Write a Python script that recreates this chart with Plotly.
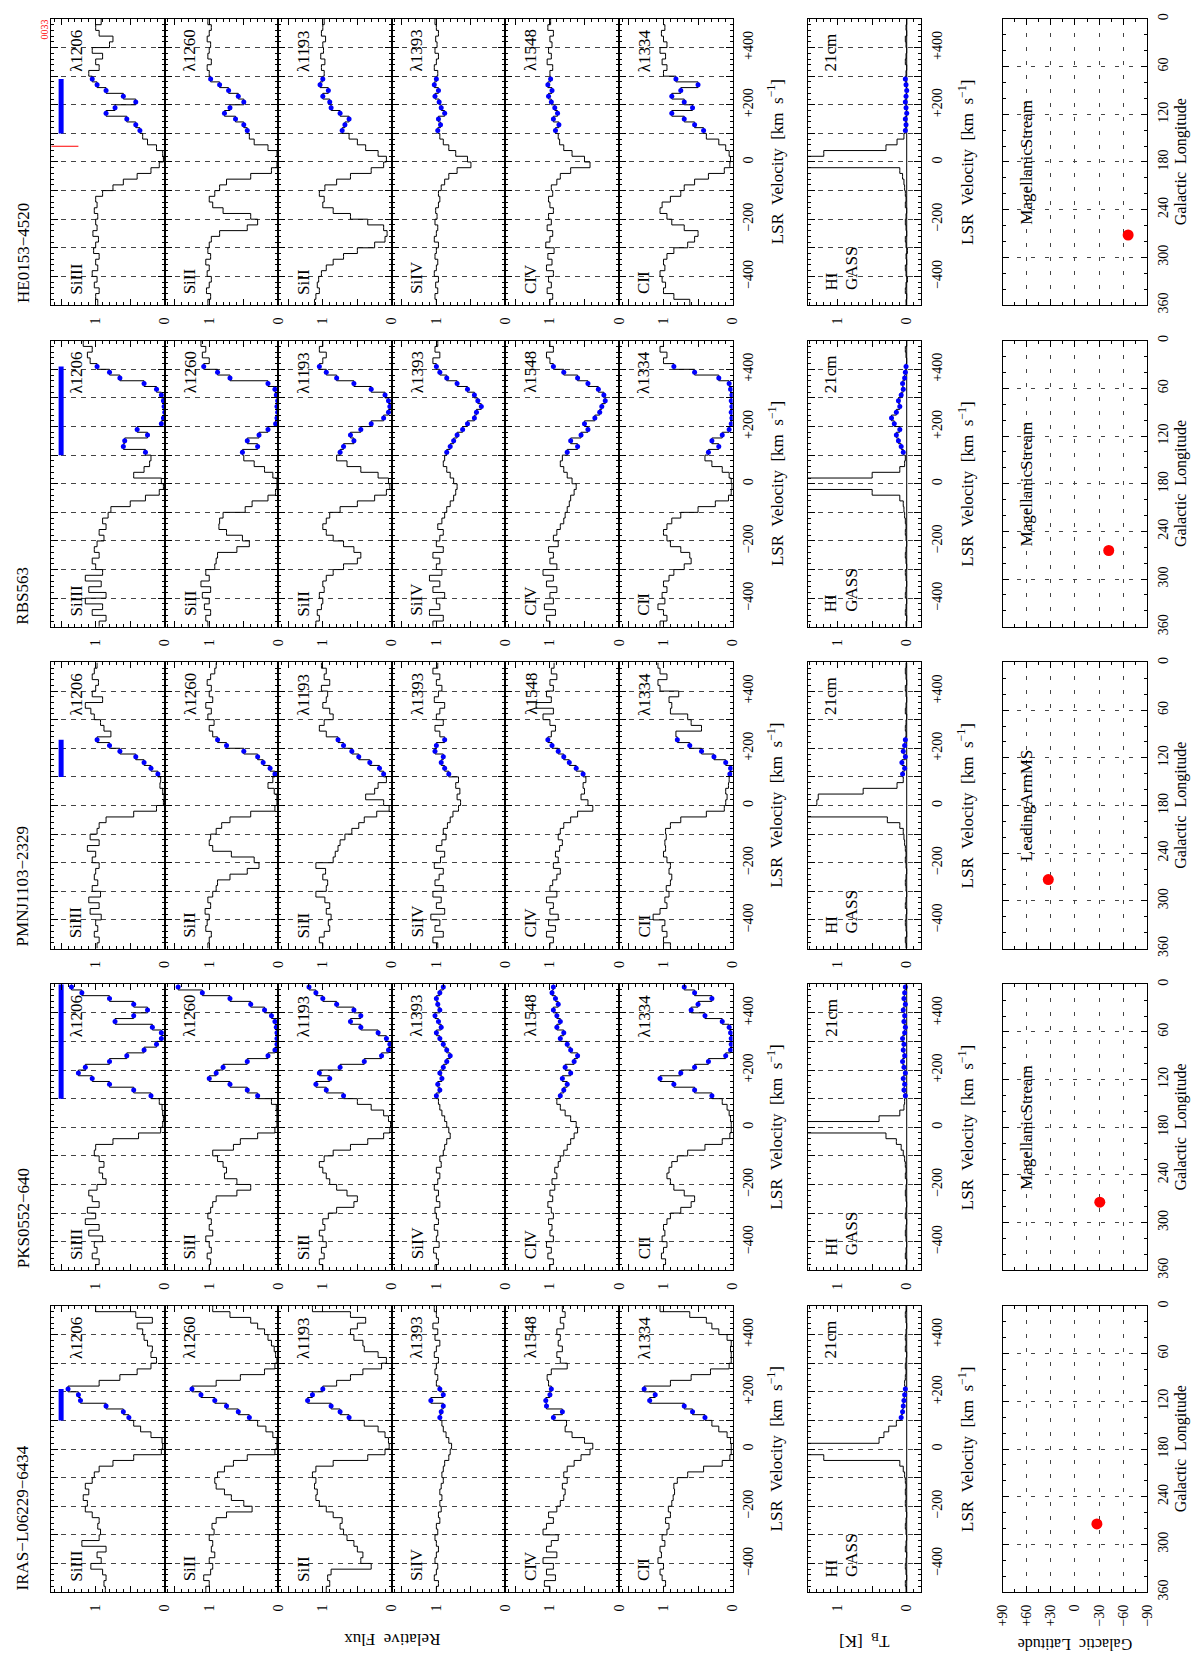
import plotly.graph_objects as go

# velocity bin centres (km/s) shared by every spectrum
VEL = list(range(-490, 500, 20))

sightlines = ["HE0153\u22124520", "RBS563", "PMNJ1103\u22122329", "PKS0552\u2212640", "IRAS\u2212L06229\u22126434"]
ions = ["SiIII", "SiII", "SiII", "SiIV", "CIV", "CII"]
lines = ["\u03bb1206", "\u03bb1260", "\u03bb1193", "\u03bb1393", "\u03bb1548", "\u03bb1334"]
blue_vmin = [100, 100, 100, 100, 100]
blue_vmax = [290, 410, 230, 500, 210]
red_tick_vel = 55  # marked velocity in HE0153-4520 SiIII panel
glon = [271.9, 264.0, 273.2, 274.3, 274.3]
glat = [-66.1, -42.0, 33.1, -30.9, -27.3]
map_labels = ["MagellanicStream", "MagellanicStream", "LeadingArmMS", "MagellanicStream", ""]

# ---- HE0153-4520
he_siiii = [0.97, 1.00, 0.95, 1.02, 0.98, 1.05, 0.97, 1.00, 0.95, 1.03,
            1.00, 0.96, 1.04, 0.98, 1.00, 0.97, 1.02, 0.98, 1.00, 0.90,
            0.75, 0.60, 0.40, 0.20, 0.08, 0.02, 0.03, 0.12, 0.25, 0.32,
            0.36, 0.42, 0.55, 0.85, 0.72, 0.42, 0.60, 0.85, 0.98, 1.05,
            1.10, 0.95, 1.00, 0.90, 1.05, 0.80, 0.75, 0.95, 1.00, 0.92]
he_sii1260 = [1.02, 0.98, 1.04, 1.00, 0.97, 1.03, 1.00, 1.05, 0.98, 1.02,
              1.00, 0.97, 0.85, 0.45, 0.30, 0.40, 0.80, 0.95, 1.00, 0.92,
              0.85, 0.75, 0.40, 0.10, 0.02, 0.00, 0.02, 0.15, 0.35, 0.42,
              0.45, 0.50, 0.62, 0.78, 0.70, 0.50, 0.58, 0.72, 0.85, 0.98,
              1.00, 1.03, 0.97, 1.02, 1.00, 0.98, 1.03, 1.00, 0.97, 1.02]
he_sii1193 = [1.12, 1.10, 1.05, 1.08, 1.06, 1.02, 0.95, 0.85, 0.70, 0.50,
              0.25, 0.10, 0.07, 0.12, 0.35, 0.60, 0.85, 1.00, 0.98, 1.05,
              0.97, 0.80, 0.60, 0.30, 0.12, 0.08, 0.20, 0.38, 0.50, 0.62,
              0.72, 0.68, 0.62, 0.75, 0.88, 0.90, 1.00, 0.92, 1.04, 1.00,
              0.98, 1.02, 0.97, 1.03, 0.99, 1.00, 0.96, 1.02, 1.00, 0.98]
he_siiv = [1.00, 1.02, 0.98, 1.01, 0.97, 1.03, 1.00, 0.98, 1.02, 1.00,
           0.97, 1.03, 1.00, 0.98, 1.02, 0.99, 1.01, 0.97, 0.95, 0.97,
           0.93, 0.88, 0.82, 0.70, 0.50, 0.55, 0.72, 0.82, 0.90, 0.95,
           0.98, 0.94, 0.97, 0.88, 0.93, 0.96, 1.02, 0.97, 1.03, 1.00,
           0.98, 1.03, 1.00, 0.97, 1.02, 0.99, 1.01, 0.97, 1.00, 1.02]
he_civ = [1.00, 0.96, 1.04, 0.98, 1.02, 0.95, 1.05, 0.97, 1.03, 0.94,
          1.06, 1.00, 0.96, 1.04, 0.98, 1.02, 0.95, 1.00, 1.02, 0.96,
          0.98, 0.90, 0.85, 0.70, 0.42, 0.50, 0.68, 0.80, 0.86, 0.88,
          0.92, 0.87, 0.95, 0.89, 0.93, 0.98, 1.02, 0.97, 1.03, 0.99,
          1.00, 0.96, 1.04, 0.98, 1.02, 0.97, 1.00, 0.95, 1.03, 0.99]
he_cii = [0.62, 0.85, 1.00, 0.97, 1.02, 1.05, 0.98, 1.00, 0.95, 0.85,
          0.65, 0.55, 0.50, 0.70, 0.88, 0.95, 1.05, 1.02, 0.90, 0.75,
          0.70, 0.55, 0.35, 0.12, 0.04, 0.03, 0.05, 0.10, 0.20, 0.38,
          0.42, 0.55, 0.70, 0.88, 0.58, 0.70, 0.88, 0.75, 0.50, 0.82,
          1.00, 0.95, 1.02, 0.97, 1.05, 0.95, 1.00, 1.03, 0.98, 1.00]
he_hi = [0.01, 0.00, 0.02, 0.01, -0.01, 0.01, 0.02, 0.00, 0.01, -0.01,
         0.01, 0.02, 0.00, 0.01, 0.02, 0.01, 0.00, 0.02, 0.01, 0.02,
         0.03, 0.04, 0.06, 0.10, 3.00, 3.00, 1.20, 0.30, 0.14, 0.04,
         0.02, 0.01, 0.02, 0.00, 0.01, 0.02, 0.01, 0.00, 0.01, 0.02,
         0.01, 0.00, 0.02, 0.01, 0.00, 0.01, 0.02, 0.00, 0.01, 0.00]

# ---- RBS563
rbs_siiii = [0.95, 0.85, 1.05, 0.90, 1.15, 0.85, 1.10, 0.92, 1.15, 0.90,
             1.00, 1.05, 0.95, 1.02, 0.98, 0.88, 0.95, 0.85, 0.90, 0.82,
             0.78, 0.50, 0.28, 0.08, 0.02, 0.05, 0.45, 0.30, 0.22, 0.20,
             0.28, 0.60, 0.58, 0.25, 0.40, 0.05, 0.02, 0.00, 0.01, 0.02,
             0.05, 0.12, 0.30, 0.65, 0.80, 0.98, 1.08, 1.12, 1.05, 1.18]
rbs_sii1260 = [1.02, 1.05, 0.98, 1.07, 1.00, 1.10, 0.98, 1.12, 1.00, 1.05,
               0.92, 0.90, 0.88, 0.60, 0.42, 0.52, 0.75, 0.86, 0.85, 0.80,
               0.48, 0.38, 0.15, 0.04, 0.02, 0.02, 0.08, 0.20, 0.35, 0.50,
               0.52, 0.30, 0.45, 0.28, 0.15, 0.04, 0.02, 0.01, 0.02, 0.01,
               0.03, 0.05, 0.15, 0.70, 0.88, 1.08, 1.00, 1.10, 1.05, 1.12]
rbs_sii1193 = [1.10, 1.05, 1.08, 1.02, 1.00, 1.05, 0.98, 1.00, 0.95, 0.85,
               0.70, 0.50, 0.45, 0.55, 0.70, 0.85, 0.95, 1.00, 0.95, 0.90,
               0.75, 0.50, 0.25, 0.08, 0.03, 0.05, 0.20, 0.45, 0.65, 0.80,
               0.75, 0.70, 0.55, 0.60, 0.45, 0.30, 0.12, 0.05, 0.03, 0.05,
               0.10, 0.30, 0.55, 0.80, 0.95, 1.05, 1.00, 0.95, 1.05, 1.00]
rbs_siiv = [1.05, 0.90, 1.10, 0.95, 1.00, 0.88, 1.05, 0.95, 1.10, 0.92,
            1.00, 0.95, 1.05, 0.90, 1.00, 0.95, 0.90, 0.98, 0.92, 0.88,
            0.85, 0.80, 0.75, 0.72, 0.70, 0.75, 0.80, 0.85, 0.90, 0.88,
            0.85, 0.80, 0.75, 0.70, 0.62, 0.55, 0.45, 0.42, 0.35, 0.40,
            0.45, 0.55, 0.70, 0.85, 0.95, 1.00, 1.05, 0.95, 1.02, 0.98]
rbs_civ = [1.00, 1.05, 0.92, 1.08, 0.95, 1.00, 0.90, 1.05, 0.95, 1.10,
           0.90, 1.00, 0.95, 1.02, 0.88, 0.95, 0.90, 0.85, 0.80, 0.78,
           0.75, 0.72, 0.70, 0.65, 0.62, 0.68, 0.75, 0.80, 0.85, 0.82,
           0.75, 0.60, 0.70, 0.55, 0.45, 0.50, 0.35, 0.28, 0.25, 0.20,
           0.22, 0.30, 0.45, 0.60, 0.80, 0.95, 1.00, 1.05, 0.95, 1.00]
rbs_cii = [1.05, 0.95, 1.00, 1.08, 0.98, 1.02, 0.95, 1.00, 0.92, 0.85,
           0.70, 0.60, 0.62, 0.75, 0.90, 0.95, 1.00, 0.95, 0.88, 0.75,
           0.50, 0.25, 0.06, 0.02, 0.01, 0.02, 0.05, 0.15, 0.30, 0.40,
           0.35, 0.20, 0.30, 0.15, 0.05, 0.02, 0.01, 0.02, 0.01, 0.02,
           0.01, 0.03, 0.05, 0.20, 0.55, 0.85, 1.00, 0.95, 1.05, 1.00]
rbs_hi = [0.01, 0.00, 0.02, 0.01, 0.00, 0.02, 0.01, 0.00, 0.01, 0.02,
          0.00, 0.01, 0.02, 0.01, 0.00, 0.01, 0.02, 0.01, 0.02, 0.03,
          0.04, 0.05, 0.10, 0.50, 3.00, 2.50, 0.50, 0.10, 0.03, 0.02,
          0.05, 0.08, 0.12, 0.15, 0.10, 0.18, 0.22, 0.15, 0.10, 0.12,
          0.08, 0.05, 0.06, 0.03, 0.02, 0.01, 0.00, 0.01, 0.02, 0.00]

# ---- PMNJ1103-2329
pmn_siiii = [0.98, 0.95, 1.02, 0.97, 1.00, 0.92, 1.08, 0.95, 1.10, 0.93,
             1.05, 0.97, 1.02, 1.00, 0.95, 1.05, 1.00, 1.12, 0.95, 1.08,
             0.98, 0.95, 0.85, 0.45, 0.12, 0.02, 0.01, 0.03, 0.07, 0.06,
             0.10, 0.20, 0.30, 0.42, 0.65, 0.80, 0.98, 0.78, 0.88, 0.93,
             1.02, 1.07, 1.15, 0.90, 1.05, 1.00, 0.96, 1.05, 1.02, 0.98]
pmn_sii1260 = [1.02, 1.00, 0.97, 1.05, 1.03, 1.00, 1.06, 0.98, 1.02, 0.95,
               0.90, 0.88, 0.70, 0.45, 0.28, 0.35, 0.68, 0.95, 1.00, 0.98,
               0.90, 0.82, 0.70, 0.40, 0.05, 0.02, 0.02, 0.06, 0.15, 0.08,
               0.05, 0.12, 0.22, 0.30, 0.50, 0.75, 0.88, 0.95, 1.00, 0.93,
               1.02, 0.97, 1.05, 0.95, 1.00, 0.97, 1.03, 0.98, 0.92, 0.90]
pmn_sii1193 = [1.00, 1.05, 0.98, 0.90, 0.92, 0.88, 0.95, 0.90, 0.97, 1.10,
               0.95, 0.93, 1.00, 0.96, 1.10, 0.85, 0.82, 0.78, 0.75, 0.68,
               0.58, 0.48, 0.40, 0.22, 0.04, 0.12, 0.38, 0.25, 0.20, 0.08,
               0.12, 0.18, 0.32, 0.48, 0.58, 0.70, 0.78, 0.95, 1.05, 0.98,
               0.85, 0.90, 1.00, 0.95, 0.93, 1.02, 0.90, 0.98, 0.95, 1.02]
pmn_siiv = [0.98, 1.05, 0.90, 1.02, 0.95, 1.08, 0.88, 1.00, 0.93, 1.05,
            0.90, 1.02, 0.96, 0.90, 1.03, 0.94, 0.88, 1.00, 0.92, 0.86,
            0.90, 0.84, 0.80, 0.76, 0.68, 0.65, 0.70, 0.66, 0.72, 0.68,
            0.82, 0.88, 0.93, 0.90, 1.02, 1.00, 0.88, 0.95, 1.02, 0.90,
            1.00, 0.95, 0.88, 1.03, 0.97, 0.92, 1.00, 0.95, 1.05, 0.98]
pmn_civ = [1.00, 0.95, 1.05, 0.92, 1.02, 0.88, 1.00, 0.95, 1.05, 0.90,
           1.00, 0.96, 0.90, 0.85, 0.95, 0.88, 0.92, 0.86, 0.82, 0.88,
           0.85, 0.80, 0.70, 0.60, 0.38, 0.45, 0.55, 0.50, 0.52, 0.48,
           0.52, 0.62, 0.72, 0.80, 0.88, 0.97, 1.03, 0.98, 0.92, 1.00,
           1.10, 0.95, 1.20, 0.98, 1.05, 0.95, 1.00, 0.90, 0.98, 0.94]
pmn_cii = [0.90, 1.00, 0.95, 1.02, 0.98, 1.15, 1.05, 0.95, 0.98, 0.92,
           0.96, 0.90, 0.88, 0.92, 0.90, 0.95, 1.00, 0.97, 0.98, 0.96,
           0.97, 0.90, 0.75, 0.38, 0.12, 0.10, 0.08, 0.10, 0.06, 0.05,
           0.04, 0.03, 0.10, 0.27, 0.45, 0.62, 0.80, 0.82, 0.45, 0.60,
           0.65, 0.90, 0.88, 0.92, 0.78, 1.05, 1.08, 0.95, 1.05, 1.08]
pmn_hi = [0.01, 0.02, 0.00, 0.01, 0.02, 0.01, 0.00, 0.02, 0.01, 0.00,
          0.01, 0.02, 0.01, 0.00, 0.01, 0.02, 0.01, 0.02, 0.03, 0.04,
          0.05, 0.10, 0.28, 3.00, 3.00, 1.30, 1.28, 0.63, 0.14, 0.05,
          0.06, 0.03, 0.07, 0.02, 0.05, 0.03, 0.02, 0.01, 0.02, 0.01,
          0.00, 0.02, 0.01, 0.00, 0.01, 0.02, 0.00, 0.01, 0.02, 0.01]

# ---- PKS0552-640
pks_siiii = [1.00, 0.95, 1.05, 0.98, 1.02, 0.90, 1.10, 0.95, 1.15, 1.00,
             1.12, 0.95, 1.05, 1.10, 0.98, 0.85, 0.90, 0.95, 0.88, 0.95,
             1.02, 1.00, 0.75, 0.38, 0.06, 0.03, 0.02, 0.03, 0.04, 0.08,
             0.20, 0.45, 0.80, 1.05, 1.25, 1.15, 0.80, 0.55, 0.30, 0.12,
             0.05, 0.05, 0.18, 0.72, 0.45, 0.25, 0.45, 0.80, 1.20, 1.35]
pks_sii1260 = [1.00, 0.98, 1.03, 0.97, 1.00, 1.05, 0.95, 1.00, 0.97, 1.02,
               0.98, 0.95, 0.90, 0.60, 0.40, 0.60, 0.78, 0.75, 0.80, 0.88,
               0.95, 0.65, 0.55, 0.30, 0.05, 0.02, 0.02, 0.02, 0.03, 0.10,
               0.30, 0.45, 0.70, 1.00, 0.90, 0.80, 0.45, 0.15, 0.05, 0.02,
               0.02, 0.02, 0.03, 0.05, 0.10, 0.20, 0.40, 0.70, 1.10, 1.45]
pks_sii1193 = [1.00, 1.05, 0.98, 1.02, 0.95, 1.00, 1.05, 0.97, 1.00, 0.92,
               0.80, 0.55, 0.50, 0.65, 0.80, 0.90, 0.95, 1.00, 1.05, 0.98,
               0.85, 0.60, 0.35, 0.12, 0.03, 0.02, 0.05, 0.12, 0.30, 0.50,
               0.70, 0.95, 1.10, 0.90, 1.05, 0.75, 0.40, 0.15, 0.05, 0.03,
               0.08, 0.20, 0.45, 0.60, 0.45, 0.55, 0.80, 1.00, 1.10, 1.20]
pks_siiv = [1.02, 0.97, 1.00, 1.04, 0.96, 1.00, 0.98, 1.03, 0.97, 1.00,
            1.02, 0.95, 1.00, 0.97, 1.03, 0.98, 0.95, 1.00, 0.93, 0.95,
            0.90, 0.88, 0.85, 0.80, 0.82, 0.85, 0.88, 0.92, 0.95, 0.97,
            1.00, 0.95, 0.98, 0.92, 0.95, 0.90, 0.85, 0.80, 0.85, 0.90,
            0.95, 1.00, 0.93, 0.97, 1.02, 0.95, 0.98, 1.00, 0.95, 0.90]
pks_civ = [1.00, 0.95, 1.03, 0.98, 1.05, 0.95, 1.00, 0.97, 1.02, 0.95,
           0.98, 1.03, 0.96, 1.00, 0.93, 0.97, 0.90, 0.93, 0.88, 0.85,
           0.80, 0.75, 0.70, 0.65, 0.60, 0.62, 0.70, 0.78, 0.85, 0.90,
           0.85, 0.80, 0.75, 0.82, 0.70, 0.78, 0.65, 0.60, 0.70, 0.75,
           0.85, 0.80, 0.90, 0.85, 0.90, 0.95, 0.88, 0.92, 0.97, 0.95]
pks_cii = [1.00, 0.97, 1.03, 1.00, 0.95, 1.02, 0.98, 1.00, 0.95, 0.90,
           0.75, 0.60, 0.55, 0.70, 0.85, 0.90, 0.95, 0.92, 0.88, 0.80,
           0.65, 0.40, 0.15, 0.04, 0.02, 0.02, 0.03, 0.05, 0.08, 0.15,
           0.30, 0.55, 0.85, 1.05, 0.75, 0.55, 0.35, 0.10, 0.03, 0.02,
           0.02, 0.03, 0.05, 0.15, 0.40, 0.60, 0.50, 0.30, 0.55, 0.70]
pks_hi = [0.01, 0.00, 0.02, 0.01, 0.00, 0.01, 0.02, 0.01, 0.00, 0.02,
          0.01, 0.00, 0.01, 0.02, 0.01, 0.00, 0.02, 0.01, 0.02, 0.03,
          0.05, 0.08, 0.15, 0.30, 3.00, 3.00, 0.40, 0.10, 0.04, 0.03,
          0.02, 0.04, 0.03, 0.05, 0.02, 0.04, 0.06, 0.03, 0.05, 0.04,
          0.06, 0.03, 0.02, 0.04, 0.03, 0.05, 0.02, 0.04, 0.03, 0.02]

# ---- IRAS-L06229-6434
iras_siiii = [0.86, 0.88, 0.85, 0.90, 1.07, 0.92, 0.98, 0.85, 1.20, 0.95,
              0.93, 0.97, 0.95, 1.05, 1.15, 1.12, 1.18, 1.10, 1.15, 1.05,
              1.02, 0.95, 0.75, 0.45, 0.05, 0.03, 0.04, 0.20, 0.35, 0.45,
              0.52, 0.60, 0.85, 1.22, 1.25, 1.40, 0.95, 0.65, 0.40, 0.20,
              0.12, 0.20, 0.18, 0.25, 0.30, 0.32, 0.40, 0.18, 0.42, 1.00]
iras_sii1260 = [1.05, 1.00, 1.08, 0.98, 0.95, 1.00, 0.92, 0.97, 0.95, 1.00,
                0.93, 0.96, 0.90, 0.75, 0.38, 0.50, 0.68, 0.78, 0.90, 0.92,
                0.88, 0.78, 0.65, 0.45, 0.05, 0.02, 0.02, 0.08, 0.18, 0.30,
                0.42, 0.58, 0.75, 0.92, 1.12, 1.25, 0.90, 0.55, 0.20, 0.05,
                0.02, 0.04, 0.06, 0.10, 0.15, 0.20, 0.30, 0.40, 0.70, 0.95]
iras_sii1193 = [0.95, 0.90, 0.93, 0.88, 0.30, 0.45, 0.42, 0.50, 0.55, 0.65,
                0.70, 0.75, 0.72, 0.85, 0.95, 1.05, 1.10, 1.08, 1.12, 1.10,
                1.15, 1.10, 0.85, 0.35, 0.10, 0.04, 0.05, 0.10, 0.20, 0.40,
                0.62, 0.75, 0.88, 1.22, 1.15, 1.00, 0.80, 0.60, 0.42, 0.15,
                0.08, 0.20, 0.40, 0.42, 0.55, 0.60, 0.50, 0.38, 0.60, 1.15]
iras_siiv = [1.00, 0.97, 1.03, 1.00, 0.98, 1.02, 1.00, 0.97, 1.00, 1.02,
             0.98, 1.00, 0.95, 0.97, 0.93, 0.95, 0.92, 0.95, 0.93, 0.90,
             0.92, 0.90, 0.88, 0.82, 0.80, 0.78, 0.82, 0.86, 0.90, 0.92,
             0.95, 0.93, 0.90, 1.08, 0.90, 0.95, 1.00, 0.98, 1.02, 1.00,
             0.97, 1.03, 1.00, 0.95, 1.02, 0.98, 1.05, 0.97, 1.00, 1.03]
iras_civ = [1.00, 1.08, 0.92, 1.05, 0.95, 1.10, 0.90, 1.05, 0.98, 0.88,
            1.10, 1.05, 0.95, 1.02, 0.90, 0.85, 0.80, 0.78, 0.82, 0.75,
            0.80, 0.75, 0.65, 0.55, 0.42, 0.38, 0.50, 0.68, 0.78, 0.76,
            0.95, 0.82, 1.05, 1.06, 1.00, 0.98, 1.02, 1.04, 0.98, 0.75,
            0.85, 0.90, 0.82, 0.88, 0.85, 0.90, 0.80, 0.85, 0.78, 0.82]
iras_cii = [1.00, 0.97, 1.02, 1.05, 1.00, 1.08, 1.03, 1.05, 0.98, 1.02,
            0.95, 0.92, 0.97, 0.90, 0.93, 0.88, 0.86, 0.84, 0.85, 0.80,
            0.65, 0.42, 0.15, 0.04, 0.02, 0.02, 0.03, 0.08, 0.20, 0.30,
            0.40, 0.58, 0.70, 1.20, 1.12, 1.28, 0.90, 0.60, 0.32, 0.05,
            0.02, 0.02, 0.03, 0.02, 0.08, 0.20, 0.30, 0.38, 0.62, 1.05]
iras_hi = [0.01, 0.02, 0.00, 0.01, 0.02, 0.01, 0.00, 0.02, 0.01, 0.00,
           0.01, 0.02, 0.01, 0.00, 0.01, 0.02, 0.01, 0.02, 0.01, 0.02,
           0.03, 0.05, 0.10, 1.20, 3.00, 2.50, 0.40, 0.33, 0.26, 0.15,
           0.08, 0.06, 0.05, 0.04, 0.03, 0.02, 0.03, 0.02, 0.01, 0.02,
           0.01, 0.00, 0.02, 0.01, 0.02, 0.01, 0.00, 0.01, 0.02, 0.01]

spectra = [
    [he_siiii, he_sii1260, he_sii1193, he_siiv, he_civ, he_cii],
    [rbs_siiii, rbs_sii1260, rbs_sii1193, rbs_siiv, rbs_civ, rbs_cii],
    [pmn_siiii, pmn_sii1260, pmn_sii1193, pmn_siiv, pmn_civ, pmn_cii],
    [pks_siiii, pks_sii1260, pks_sii1193, pks_siiv, pks_civ, pks_cii],
    [iras_siiii, iras_sii1260, iras_sii1193, iras_siiv, iras_civ, iras_cii],
]
hi_spectra = [he_hi, rbs_hi, pmn_hi, pks_hi, iras_hi]

# ---- page geometry (pixels), the page is drawn rotated: velocity runs up, flux runs left
W, H = 1200, 1655
FONT = "Liberation Serif"
PX0, PW = 36.7, 115.0
HI_X0 = 802.7
MAP_X0, MAP_X1 = 1000.0, 1146.7
BAND_Y0, BAND_H, BAND_STEP = 5.0, 288.5, 324.5
FLUX_MAX = 1.643
TB_RANGE = [1.433, -0.21]


def xdom(x0, x1):
    return [x0 / W, x1 / W]


def ydom(y0, y1):
    return [1 - y1 / H, 1 - y0 / H]


def txt(text, x, y, xref="paper", yref="paper", angle=-90, size=17, color="black",
        xanchor="center", yanchor="middle"):
    if xref == "paper":
        x = x / W
    if yref == "paper":
        y = 1 - y / H
    return dict(text=text, x=x, y=y, xref=xref, yref=yref, textangle=angle,
                showarrow=False, xanchor=xanchor, yanchor=yanchor,
                font=dict(family=FONT, size=size, color=color))


vel_ticks = list(range(-500, 501, 100))
vel_text = [" ", "\u2212400", " ", "\u2212200", " ", "0", " ", "+200", " ", "+400", " "]

frame = dict(showline=True, linecolor="black", linewidth=1, mirror="allticks",
             ticks="inside", tickcolor="black", tickwidth=1, zeroline=False,
             tickfont=dict(family=FONT, size=14, color="black"))

fig = go.Figure()
layout = {}
ann = []

n = 0
for b, name in enumerate(sightlines):
    y0 = BAND_Y0 + b * BAND_STEP
    y1 = y0 + BAND_H
    ymid = (y0 + y1) / 2
    lo, hi = blue_vmin[b], blue_vmax[b]
    ann.append(txt(name, 8, y1, yanchor="bottom"))

    for k in range(8):
        n += 1
        ax = "" if n == 1 else str(n)
        xr, yr = "x" + ax, "y" + ax
        if k < 6:
            x0 = PX0 + k * PW
            x1 = x0 + PW
        elif k == 6:
            x0, x1 = HI_X0, HI_X0 + PW
        else:
            x0, x1 = MAP_X0, MAP_X1

        if k < 7:
            if k < 6:
                xa = dict(frame, range=[FLUX_MAX, 0], tickvals=[0, 0.5, 1, 1.5],
                          ticktext=["0", " ", "1", " "])
                fl = spectra[b][k]
            else:
                xa = dict(frame, range=TB_RANGE, tickvals=[0, 0.5, 1],
                          ticktext=["0", " ", "1"])
                fl = hi_spectra[b]
            xa.update(domain=xdom(x0, x1), anchor=yr, tickmode="array", ticklen=6,
                      tickangle=-90, ticklabelstandoff=6, showgrid=False,
                      minor=dict(tickmode="linear", tick0=0, dtick=0.1, ticklen=3,
                                 ticks="inside", tickcolor="black", showgrid=False))
            labelled = k >= 5
            ya = dict(frame, domain=ydom(y0, y1), anchor=xr, range=[-500, 500],
                      tickmode="array", tickvals=vel_ticks, ticktext=vel_text, ticklen=7,
                      showgrid=True, gridcolor="#444", gridwidth=1, griddash="5px,5px",
                      showticklabels=labelled, side="right" if labelled else "left",
                      tickangle=-90, ticklabelstandoff=3,
                      minor=dict(tickmode="linear", tick0=0, dtick=20, ticklen=3,
                                 ticks="inside", tickcolor="black", showgrid=False))

            if k == 6:
                fig.add_trace(go.Scatter(x=[0, 0], y=[-500, 500], mode="lines",
                                         line=dict(color="black", width=1),
                                         xaxis=xr, yaxis=yr, hoverinfo="skip"))
            fig.add_trace(go.Scatter(x=[fl[0]] + fl + [fl[-1]], y=[-500] + VEL + [500],
                                     mode="lines", line=dict(color="black", width=1, shape="vhv"),
                                     xaxis=xr, yaxis=yr, hoverinfo="skip"))
            bx = [f for f, v in zip(fl, VEL) if lo <= v <= hi]
            by = [v for v in VEL if lo <= v <= hi]
            fig.add_trace(go.Scatter(x=bx, y=by, mode="markers",
                                     marker=dict(color="#0000ff", size=5),
                                     xaxis=xr, yaxis=yr, hoverinfo="skip"))
            if k == 0:
                fig.add_trace(go.Scatter(x=[1.5, 1.5], y=[lo, min(hi, 500)], mode="lines",
                                         line=dict(color="#0000ff", width=5),
                                         xaxis=xr, yaxis=yr, hoverinfo="skip"))
                if b == 0:
                    fig.add_trace(go.Scatter(x=[FLUX_MAX, 1.25], y=[red_tick_vel] * 2,
                                             mode="lines", line=dict(color="red", width=1),
                                             xaxis=xr, yaxis=yr, hoverinfo="skip"))
            if k < 6:
                ann.append(txt(ions[k], 1.28, -470, xr, yr, yanchor="bottom"))
                ann.append(txt(lines[k], 1.28, 470, xr, yr, yanchor="top"))
            else:
                ann.append(txt("HI", 1.09, -455, xr, yr, yanchor="bottom"))
                ann.append(txt("GASS", 0.80, -455, xr, yr, yanchor="bottom"))
                ann.append(txt("21cm", 1.10, 455, xr, yr, yanchor="top"))
        else:
            xa = dict(frame, domain=xdom(x0, x1), anchor=yr, range=[90, -90],
                      tickmode="array", tickvals=[-90, -60, -30, 0, 30, 60, 90],
                      ticktext=["\u221290", "\u221260", "\u221230", "0", "+30", "+60", "+90"],
                      ticklen=6, tickangle=-90, ticklabelstandoff=6,
                      showticklabels=(b == len(sightlines) - 1),
                      showgrid=True, gridcolor="#444", gridwidth=1, griddash="4px,10px",
                      minor=dict(tickmode="linear", tick0=0, dtick=15, ticklen=3,
                                 ticks="inside", tickcolor="black", showgrid=False))
            ya = dict(frame, domain=ydom(y0, y1), anchor=xr, range=[360, 0],
                      tickmode="array", tickvals=list(range(0, 361, 60)),
                      ticktext=[str(v) for v in range(0, 361, 60)],
                      ticklen=6, tickangle=-90, side="right", ticklabelstandoff=3,
                      showgrid=True, gridcolor="#444", gridwidth=1, griddash="4px,10px",
                      minor=dict(tickmode="linear", tick0=0, dtick=20, ticklen=3,
                                 ticks="inside", tickcolor="black", showgrid=False))
            fig.add_trace(go.Scatter(x=[glat[b]], y=[glon[b]], mode="markers",
                                     marker=dict(color="red", size=11),
                                     xaxis=xr, yaxis=yr, hoverinfo="skip"))
            if map_labels[b]:
                ann.append(txt(map_labels[b], 60, 180, xr, yr))

        layout["xaxis" + ax] = xa
        layout["yaxis" + ax] = ya

    ann.append(txt("LSR  Velocity  [km  s<sup>\u22121</sup>]", 770, ymid))
    ann.append(txt("LSR  Velocity  [km  s<sup>\u22121</sup>]", 963, ymid))
    ann.append(txt("Galactic  Longitude", 1181, ymid, size=16))

ann.append(txt("0033", 30, 4, size=10, color="red", yanchor="top"))
ann.append(txt("Relative  Flux", 382, 1640, angle=180))
ann.append(txt("T<sub>B</sub>  [K]", 860, 1640, angle=180))
ann.append(txt("Galactic  Latitude", 1073, 1645, angle=180, size=16))

fig.update_layout(**layout)
fig.update_layout(width=W, height=H, margin=dict(l=0, r=0, t=0, b=0),
                  paper_bgcolor="white", plot_bgcolor="white", showlegend=False,
                  annotations=ann, font=dict(family=FONT, color="black"))
fig.write_html("out.html")
